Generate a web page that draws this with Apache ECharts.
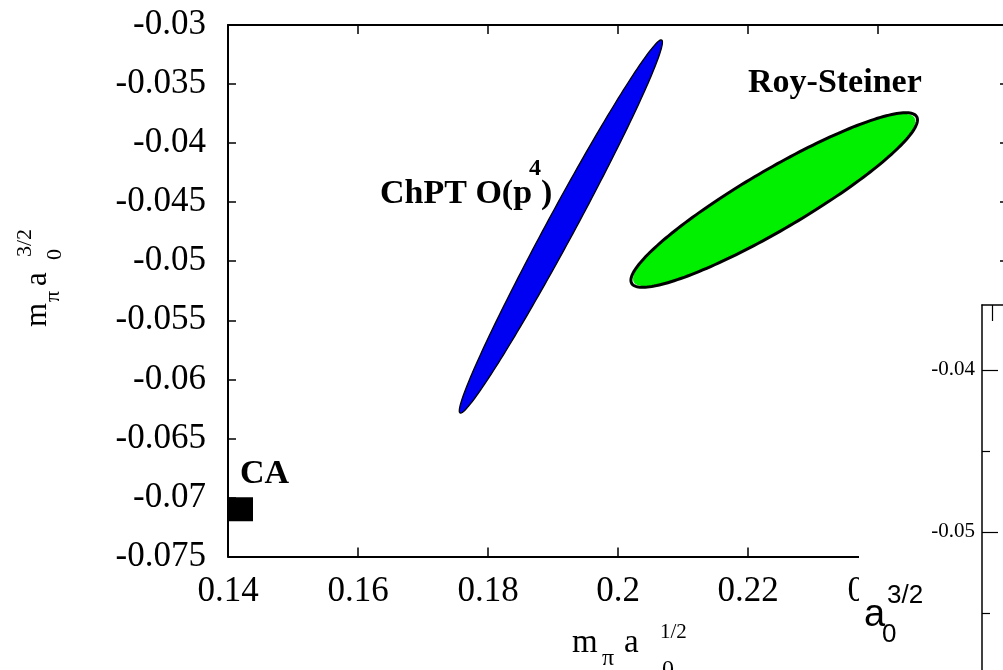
<!DOCTYPE html>
<html>
<head>
<meta charset="utf-8">
<script src="https://cdn.jsdelivr.net/npm/echarts@6/dist/echarts.min.js"></script>
<style>
  html, body { margin: 0; padding: 0; background: #ffffff; }
  #chart { width: 1003px; height: 670px; }
</style>
</head>
<body>
<div id="chart"></div>
<script>
// ---- axis ticks ----
const xTickValues = [0.14, 0.16, 0.18, 0.2, 0.22, 0.24, 0.26];
const xTickLabels = ['0.14', '0.16', '0.18', '0.2', '0.22', '0.24', '0.26'];
const yTickValues = [-0.075, -0.07, -0.065, -0.06, -0.055, -0.05, -0.045, -0.04, -0.035, -0.03];
const yTickLabels = ['-0.075', '-0.07', '-0.065', '-0.06', '-0.055', '-0.05', '-0.045', '-0.04', '-0.035', '-0.03'];
const insetYTickValues = [-0.06, -0.05, -0.04];
const insetYTickLabels = ['-0.06', '-0.05', '-0.04'];
const insetYMinorTicks = [-0.055, -0.045];
const insetXTicks = [0.1];

// ---- error ellipses: centre, end of long axis, end of short axis (m_pi a0^1/2, m_pi a0^3/2) ----
const chptCenter = [0.19121, -0.04706];
const chptTip = [0.20672, -0.03127];
const chptSide = [0.19311, -0.04762];

const roySteinerCenter = [0.22403, -0.04482];
const roySteinerTip = [0.24595, -0.03776];
const roySteinerSide = [0.22636, -0.04701];

// ---- current algebra point ----
const caPoint = [0.142, -0.071];

const SERIF = '"Liberation Serif", "Times New Roman", Times, serif';
const SANS = '"Liberation Sans", Arial, Helvetica, sans-serif';

function labelFor(values, labels) {
  return function (v) {
    const i = values.findIndex(t => Math.abs(t - v) < 1e-9);
    return i < 0 ? '' : labels[i];
  };
}

// Draws an ellipse given by its centre and two conjugate semi-axis end points,
// mapped through the cartesian coordinate system.
function ellipseRenderer(fill, stroke, lineWidth, fillScale) {
  return function (params, api) {
    const c = api.coord([api.value(0), api.value(1)]);
    const a = api.coord([api.value(2), api.value(3)]);
    const b = api.coord([api.value(4), api.value(5)]);
    const ring = function (ka, kb) {
      const pts = [];
      const n = 200;
      for (let i = 0; i < n; i++) {
        const t = 2 * Math.PI * i / n;
        const ca = Math.cos(t) * ka, sb = Math.sin(t) * kb;
        pts.push([
          c[0] + ca * (a[0] - c[0]) + sb * (b[0] - c[0]),
          c[1] + ca * (a[1] - c[1]) + sb * (b[1] - c[1])
        ]);
      }
      return pts;
    };
    return {
      type: 'group',
      children: [
        { type: 'polygon', shape: { points: ring(fillScale, 1) }, style: { fill: fill, stroke: 'none' } },
        { type: 'polygon', shape: { points: ring(1, 1) }, style: { fill: 'none', stroke: stroke, lineWidth: lineWidth } }
      ]
    };
  };
}

// text placed by its baseline (canvas "middle" sits ~0.34em above the baseline)
function txt(x, baseline, text, size, font, weight, extra) {
  return Object.assign({
    type: 'text',
    z: 30,
    silent: true,
    style: {
      x: x,
      y: baseline - 0.34 * size,
      text: text,
      fill: '#000',
      font: (weight || 'normal') + ' ' + size + 'px ' + font,
      textAlign: 'left',
      textVerticalAlign: 'middle',
      verticalAlign: 'middle'
    }
  }, extra || {});
}

const chart = echarts.init(document.getElementById('chart'), null, { renderer: 'canvas' });

const axisLineMain = { show: true, lineStyle: { color: '#000', width: 2 } };
const tickStyle = { color: '#000', width: 1.5 };

const option = {
  backgroundColor: '#ffffff',
  animation: false,
  grid: [
    { left: 228, top: 25, width: 780, height: 531.5, show: false, outerBoundsMode: 'none', containLabel: false },
    { left: 982, top: 305, width: 100, height: 389, show: false, outerBoundsMode: 'none', containLabel: false }
  ],
  xAxis: [
    {
      type: 'value', gridIndex: 0, position: 'bottom',
      min: 0.14, max: 0.26, interval: 0.02,
      axisLine: axisLineMain,
      axisTick: { show: true, inside: true, length: 9, lineStyle: tickStyle },
      axisLabel: {
        show: true, margin: 18, color: '#000', fontFamily: SERIF, fontSize: 35,
        formatter: labelFor(xTickValues, xTickLabels), hideOverlap: false
      },
      splitLine: { show: false }
    },
    {
      type: 'value', gridIndex: 0, position: 'top',
      min: 0.14, max: 0.26, interval: 0.02,
      axisLine: axisLineMain,
      axisTick: { show: true, inside: true, length: 9, lineStyle: tickStyle },
      axisLabel: { show: false },
      splitLine: { show: false }
    },
    {
      type: 'value', gridIndex: 1, position: 'top', z: 20,
      min: 0, max: 1,
      axisLine: { show: true, lineStyle: { color: '#000', width: 1.5 } },
      axisTick: { show: true, inside: true, length: 16, customValues: insetXTicks, lineStyle: { color: '#000', width: 1.2 } },
      axisLabel: { show: false },
      splitLine: { show: false }
    }
  ],
  yAxis: [
    {
      type: 'value', gridIndex: 0, position: 'left',
      min: -0.075, max: -0.03, interval: 0.005,
      axisLine: axisLineMain,
      axisTick: { show: true, inside: true, length: 8, lineStyle: tickStyle },
      axisLabel: {
        show: true, margin: 22, color: '#000', fontFamily: SERIF, fontSize: 35,
        formatter: labelFor(yTickValues, yTickLabels), hideOverlap: false
      },
      splitLine: { show: false }
    },
    {
      type: 'value', gridIndex: 0, position: 'right',
      min: -0.075, max: -0.03, interval: 0.005,
      axisLine: axisLineMain,
      axisTick: { show: true, inside: true, length: 8, lineStyle: tickStyle },
      axisLabel: { show: false },
      splitLine: { show: false }
    },
    {
      type: 'value', gridIndex: 1, position: 'left', z: 20,
      min: -0.06, max: -0.036,
      axisLine: { show: true, lineStyle: { color: '#000', width: 1.5 } },
      axisTick: { show: true, inside: true, length: 16, customValues: insetYTickValues, lineStyle: { color: '#000', width: 1.2 } },
      axisLabel: {
        show: true, margin: 7, color: '#000', fontFamily: SERIF, fontSize: 21,
        customValues: insetYTickValues,
        formatter: labelFor(insetYTickValues, insetYTickLabels)
      },
      splitLine: { show: false }
    },
    {
      type: 'value', gridIndex: 1, position: 'left', z: 20,
      min: -0.06, max: -0.036,
      axisLine: { show: false },
      axisTick: { show: true, inside: true, length: 8, customValues: insetYMinorTicks, lineStyle: { color: '#000', width: 1.2 } },
      axisLabel: { show: false },
      splitLine: { show: false }
    }
  ],
  series: [
    {
      name: 'ChPT O(p4)', type: 'custom', xAxisIndex: 0, yAxisIndex: 0, clip: false, z: 3,
      renderItem: ellipseRenderer('#0000f2', '#000', 1.3, 1),
      data: [[chptCenter[0], chptCenter[1], chptTip[0], chptTip[1], chptSide[0], chptSide[1]]]
    },
    {
      name: 'Roy-Steiner', type: 'custom', xAxisIndex: 0, yAxisIndex: 0, clip: false, z: 3,
      renderItem: ellipseRenderer('#00f000', '#000', 3, 0.985),
      data: [[roySteinerCenter[0], roySteinerCenter[1], roySteinerTip[0], roySteinerTip[1], roySteinerSide[0], roySteinerSide[1]]]
    },
    {
      name: 'CA', type: 'scatter', xAxisIndex: 0, yAxisIndex: 0, clip: false, z: 4,
      symbol: 'rect', symbolSize: 24,
      itemStyle: { color: '#000', opacity: 1 },
      emphasis: { disabled: true },
      data: [caPoint]
    }
  ],
  graphic: [
    // panel laid over the lower right corner
    { type: 'rect', z: 10, silent: true, shape: { x: 859, y: 285, width: 200, height: 400 }, style: { fill: '#ffffff' } },

    // curve labels
    txt(240, 486, 'CA', 34, SERIF, 'bold'),
    txt(380, 206, 'ChPT O(p', 34, SERIF, 'bold'),
    txt(529, 177, '4', 24, SERIF, 'bold'),
    txt(541, 206, ')', 34, SERIF, 'bold'),
    txt(748, 95, 'Roy-Steiner', 34, SERIF, 'bold'),

    // x axis title: m_pi a_0^{1/2}
    txt(572, 655, 'm', 33, SERIF),
    txt(602, 667, 'π', 24, SERIF),
    txt(624, 655, 'a', 33, SERIF),
    txt(660, 640, '1/2', 21, SERIF),
    txt(662, 678, '0', 24, SERIF),

    // y axis title: m_pi a_0^{3/2}, reading upwards
    {
      type: 'group', x: 48, y: 327, rotation: Math.PI / 2, z: 30, silent: true,
      children: [
        txt(0, 0, 'm', 31, SERIF),
        txt(25, 13, 'π', 22, SERIF),
        txt(41, 0, 'a', 31, SERIF),
        txt(67, 15, '0', 22, SERIF),
        txt(70, -15, '3/2', 22, SERIF)
      ]
    },

    // title of the overlaid panel: a_0^{3/2}
    txt(864, 628, 'a', 38, SANS),
    txt(882, 644, '0', 26, SANS),
    txt(887, 605, '3/2', 26, SANS)
  ]
};

chart.setOption(option);
</script>
</body>
</html>
